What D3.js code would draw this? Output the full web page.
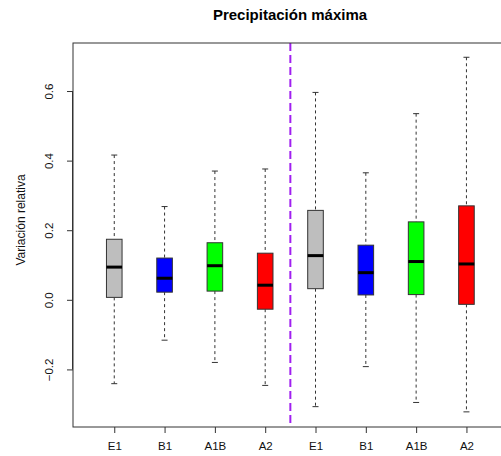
<!DOCTYPE html>
<html>
<head>
<meta charset="utf-8">
<script src="https://cdn.jsdelivr.net/npm/d3@7"></script>
<style>
  body { margin: 0; background: #fff; }
  svg { display: block; font-family: "Liberation Sans", Arial, sans-serif; }
</style>
</head>
<body>
<svg id="chart"></svg>
<script>
// Box statistics (relative variation)
const labels = ["E1", "B1", "A1B", "A2", "E1", "B1", "A1B", "A2"];
const whiskerLow = [-0.241, -0.116, -0.180, -0.246, -0.307, -0.192, -0.295, -0.322];
const q1 = [0.007, 0.022, 0.025, -0.027, 0.032, 0.014, 0.015, -0.013];
const median = [0.094, 0.062, 0.098, 0.042, 0.127, 0.078, 0.110, 0.103];
const q3 = [0.174, 0.120, 0.164, 0.134, 0.257, 0.157, 0.224, 0.270];
const whiskerHigh = [0.416, 0.268, 0.370, 0.376, 0.596, 0.365, 0.535, 0.697];
const fills = ["#bebebe", "#0000ff", "#00ff00", "#ff0000", "#bebebe", "#0000ff", "#00ff00", "#ff0000"];
const yTicks = [-0.2, 0.0, 0.2, 0.4, 0.6];
const divider = 4.5;

const width = 501, height = 456;
const svg = d3.select("#chart").attr("width", width).attr("height", height);

// plot region (right side runs past the window, like the original)
const plotLeft = 73, plotTop = 43, plotBottom = 427;
const x = d3.scaleLinear().domain([0.18, 8.82]).range([plotLeft, 507.7]);
const y = d3.scaleLinear().domain([-0.3655, 0.738]).range([plotBottom, plotTop]);

const boxW = x(1.155) - x(1);     // half box width
const capW = 3;

const data = labels.map((d, i) => ({
    pos: i + 1, label: d, lo: whiskerLow[i], q1: q1[i], med: median[i],
    q3: q3[i], hi: whiskerHigh[i], fill: fills[i]
}));

// title
svg.append("text")
    .attr("x", 290).attr("y", 20)
    .attr("text-anchor", "middle")
    .attr("font-weight", "bold")
    .attr("font-size", 15)
    .text("Precipitación máxima");

// y axis label
svg.append("text")
    .attr("transform", "translate(25,220) rotate(-90)")
    .attr("text-anchor", "middle")
    .attr("font-size", 12)
    .attr("fill", "#111")
    .text("Variación relativa");

// dividing line
svg.append("line")
    .attr("x1", x(divider)).attr("x2", x(divider))
    .attr("y1", plotTop).attr("y2", plotBottom)
    .attr("stroke", "#a020f0")
    .attr("stroke-width", 2)
    .attr("stroke-dasharray", "8,4");

const g = svg.selectAll("g.box")
    .data(data)
    .enter().append("g")
    .attr("class", "box");

// whiskers
g.append("line")
    .attr("x1", d => x(d.pos)).attr("x2", d => x(d.pos))
    .attr("y1", d => y(d.hi)).attr("y2", d => y(d.q3))
    .attr("stroke", "#333").attr("stroke-dasharray", "3,3");
g.append("line")
    .attr("x1", d => x(d.pos)).attr("x2", d => x(d.pos))
    .attr("y1", d => y(d.q1)).attr("y2", d => y(d.lo))
    .attr("stroke", "#333").attr("stroke-dasharray", "3,3");

// staples
g.append("line")
    .attr("x1", d => x(d.pos) - capW).attr("x2", d => x(d.pos) + capW)
    .attr("y1", d => y(d.hi)).attr("y2", d => y(d.hi))
    .attr("stroke", "#333");
g.append("line")
    .attr("x1", d => x(d.pos) - capW).attr("x2", d => x(d.pos) + capW)
    .attr("y1", d => y(d.lo)).attr("y2", d => y(d.lo))
    .attr("stroke", "#333");

// boxes
g.append("rect")
    .attr("x", d => x(d.pos) - boxW)
    .attr("width", boxW * 2)
    .attr("y", d => y(d.q3))
    .attr("height", d => y(d.q1) - y(d.q3))
    .attr("fill", d => d.fill)
    .attr("stroke", "#333");

// medians
g.append("line")
    .attr("x1", d => x(d.pos) - boxW).attr("x2", d => x(d.pos) + boxW)
    .attr("y1", d => y(d.med)).attr("y2", d => y(d.med))
    .attr("stroke", "#000").attr("stroke-width", 3);

// frame
svg.append("rect")
    .attr("x", plotLeft).attr("y", plotTop)
    .attr("width", x.range()[1] - plotLeft)
    .attr("height", plotBottom - plotTop)
    .attr("fill", "none")
    .attr("stroke", "#333");

// y axis
const yAxis = svg.append("g")
    .attr("transform", `translate(${plotLeft},0)`)
    .call(d3.axisLeft(y).tickValues(yTicks).tickFormat(d3.format(".1f")).tickSize(6).tickPadding(0));
yAxis.select(".domain")
    .attr("d", `M-0.5,${y(-0.2)}V${y(0.6)}`)
    .attr("stroke", "#333");
yAxis.selectAll(".tick line").attr("stroke", "#333");
yAxis.selectAll(".tick text")
    .attr("font-size", 11.5)
    .attr("font-family", "Liberation Sans, Arial, sans-serif")
    .attr("fill", "#111")
    .attr("x", null).attr("dy", null)
    .attr("text-anchor", "middle")
    .attr("transform", "translate(-20,0) rotate(-90)");

// x axis
const xAxis = svg.append("g")
    .attr("transform", `translate(0,${plotBottom})`)
    .call(d3.axisBottom(x).tickValues(d3.range(1, 9)).tickFormat(d => labels[d - 1]).tickSize(6).tickPadding(9));
xAxis.select(".domain").remove();
xAxis.selectAll(".tick line").attr("stroke", "#333");
xAxis.selectAll(".tick text")
    .attr("font-size", 11.5)
    .attr("font-family", "Liberation Sans, Arial, sans-serif")
    .attr("fill", "#111");
</script>
</body>
</html>
